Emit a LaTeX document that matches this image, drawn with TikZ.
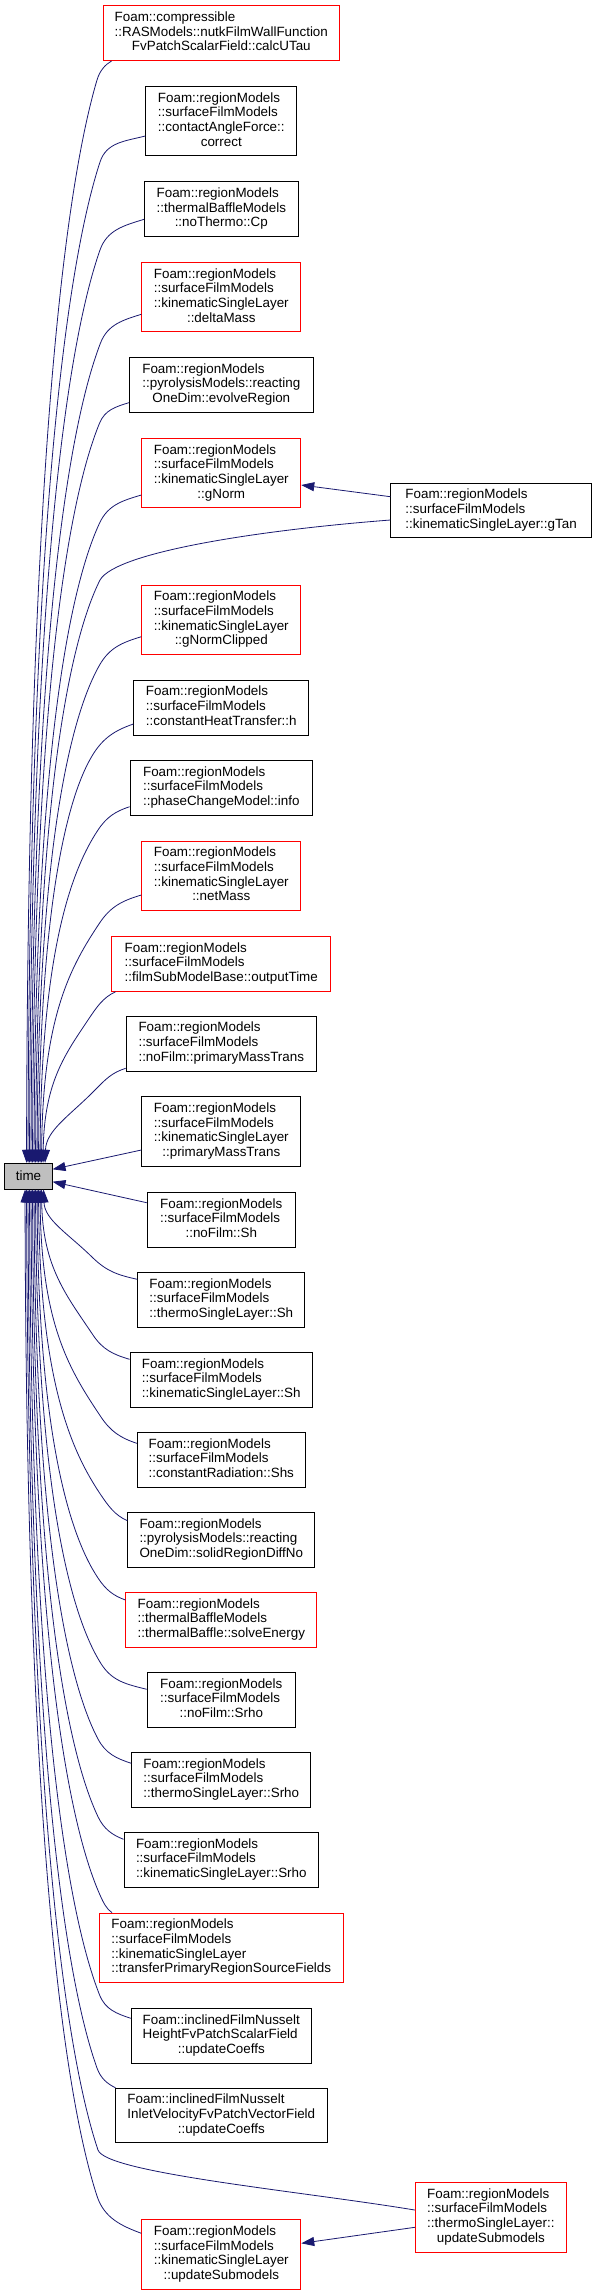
\documentclass[tikz,border=0pt]{standalone}
\usepackage{fontspec}
\setmainfont{Liberation Sans}
\usetikzlibrary{arrows.meta}
\definecolor{edgeblue}{HTML}{191970}
\definecolor{nodered}{HTML}{FF0000}
\definecolor{timegray}{HTML}{BFBFBF}
\newcommand\fsz{\fontsize{13.4}{14.7}\selectfont}
\newcommand\nl[2]{\begin{tabular}{@{}l@{}}#1\\\multicolumn{1}{@{}c@{}}{#2}\end{tabular}}
\newcommand\cedge[4]{%
  \path #1;\pgfgetlastxy{\cEx}{\cEy}%
  \path #2;\pgfgetlastxy{\cTx}{\cTy}%
  \pgfmathsetmacro\cBx{#3}%
  \pgfmathsetmacro\cBy{-(#4)}%
  \pgfmathsetmacro\cSg{ifthenelse((\cEy)>(\cTy),1,-1)}%
  \pgfmathsetmacro\cdx{(\cEx)-(\cBx)}%
  \pgfmathsetmacro\cdy{abs((\cEy)-(\cBy))}%
  \pgfmathsetmacro\cAx{(\cEx)-0.45*(\cdx)}%
  \pgfmathsetmacro\cAy{(\cEy)-(\cSg)*0.2*(\cdy)}%
  \pgfmathsetmacro\cDx{(\cBx)-(\cTx)}%
  \pgfmathsetmacro\cDy{abs((\cBy)-(\cTy))}%
  \pgfmathsetmacro\cux{-0.5*(\cDx)}%
  \pgfmathsetmacro\cua{max(0.11*(\cDy),min(0.75*(\cDx),0.35*(\cDy)))}%
  \pgfmathsetmacro\cuy{-(\cSg)*(\cua)}%
  \pgfmathsetmacro\cln{veclen(\cux,\cuy)}%
  \pgfmathsetmacro\cLo{0.4*veclen(\cdx,\cdy)}%
  \pgfmathsetmacro\cCx{(\cBx)-(\cux)*(\cLo)/(\cln)}%
  \pgfmathsetmacro\cCy{(\cBy)-(\cuy)*(\cLo)/(\cln)}%
  \pgfmathsetmacro\cFx{(\cBx)+(\cux)}%
  \pgfmathsetmacro\cFy{(\cBy)+(\cuy)}%
  \pgfmathsetmacro\cGx{(\cTx)+1}%
  \pgfmathsetmacro\cGy{(\cBy)-(\cSg)*max(0.39*(\cDy),(\cua)+0.2*(\cDy))}%
  \draw[calledge] #1 .. controls (\cAx pt,\cAy pt) and (\cCx pt,\cCy pt) .. (\cBx pt,\cBy pt) .. controls (\cFx pt,\cFy pt) and (\cGx pt,\cGy pt) .. #2;%
}
\begin{document}
\begin{tikzpicture}[x=1pt,y=-1pt,
  box/.style={draw=black, line width=0.9pt, fill=white, inner sep=0pt, minimum height=54.6pt, font=\fsz},
  redbox/.style={box, draw=nodered},
  four/.style={minimum height=69.4pt},
  calledge/.style={draw=edgeblue, line width=0.8pt, -{Triangle[length=13pt,width=9pt]}}]
\useasboundingbox (0,0) rectangle (596,2295);
\fill[white] (0,0) rectangle (596,2295);

\node[redbox, minimum width=235.8pt] (calcUTau) at (221.3,33.2) {\nl{Foam::compressible\\::RASModels::nutkFilmWallFunction}{FvPatchScalarField::calcUTau}};
\node[box, four, minimum width=151pt] (correct) at (221.3,121.2) {\nl{Foam::regionModels\\::surfaceFilmModels\\::contactAngleForce::}{correct}};
\node[box, minimum width=153.6pt] (Cp) at (221.3,209.2) {\nl{Foam::regionModels\\::thermalBaffleModels}{::noThermo::Cp}};
\node[redbox, four, minimum width=159pt] (deltaMass) at (221.3,297.15) {\nl{Foam::regionModels\\::surfaceFilmModels\\::kinematicSingleLayer}{::deltaMass}};
\node[box, minimum width=184pt] (evolveRegion) at (221.3,385) {\nl{Foam::regionModels\\::pyrolysisModels::reacting}{OneDim::evolveRegion}};
\node[redbox, four, minimum width=159pt] (gNorm) at (221.3,473.2) {\nl{Foam::regionModels\\::surfaceFilmModels\\::kinematicSingleLayer}{::gNorm}};
\node[box, minimum width=200.4pt] (gTan) at (491.1,510.5) {\nl{Foam::regionModels\\::surfaceFilmModels}{::kinematicSingleLayer::gTan}};
\node[redbox, four, minimum width=159pt] (gNormClipped) at (221.3,619.85) {\nl{Foam::regionModels\\::surfaceFilmModels\\::kinematicSingleLayer}{::gNormClipped}};
\node[box, minimum width=174.9pt] (hnode) at (221.3,707.65) {\nl{Foam::regionModels\\::surfaceFilmModels}{::constantHeatTransfer::h}};
\node[box, minimum width=182.5pt] (info) at (221.3,787.85) {\nl{Foam::regionModels\\::surfaceFilmModels}{::phaseChangeModel::info}};
\node[redbox, four, minimum width=159pt] (netMass) at (221.3,875.7) {\nl{Foam::regionModels\\::surfaceFilmModels\\::kinematicSingleLayer}{::netMass}};
\node[redbox, minimum width=219pt] (outputTime) at (221.3,964) {\nl{Foam::regionModels\\::surfaceFilmModels}{::filmSubModelBase::outputTime}};
\node[box, minimum width=190.4pt] (nfPMT) at (221.3,1043.65) {\nl{Foam::regionModels\\::surfaceFilmModels}{::noFilm::primaryMassTrans}};
\node[box, four, minimum width=159pt] (kslPMT) at (221.3,1131.5) {\nl{Foam::regionModels\\::surfaceFilmModels\\::kinematicSingleLayer}{::primaryMassTrans}};
\node[box, fill=timegray, minimum width=47.2pt, minimum height=25.7pt] (time) at (28.5,1176.15) {time};
\node[box, minimum width=148.3pt] (nfSh) at (221.3,1219.8) {\nl{Foam::regionModels\\::surfaceFilmModels}{::noFilm::Sh}};
\node[box, minimum width=167pt] (tslSh) at (221.3,1300) {\nl{Foam::regionModels\\::surfaceFilmModels}{::thermoSingleLayer::Sh}};
\node[box, minimum width=182.5pt] (kslSh) at (221.3,1380) {\nl{Foam::regionModels\\::surfaceFilmModels}{::kinematicSingleLayer::Sh}};
\node[box, minimum width=168pt] (Shs) at (221.3,1459.85) {\nl{Foam::regionModels\\::surfaceFilmModels}{::constantRadiation::Shs}};
\node[box, minimum width=187pt] (solidRDN) at (221.3,1539.85) {\nl{Foam::regionModels\\::pyrolysisModels::reacting}{OneDim::solidRegionDiffNo}};
\node[redbox, minimum width=190.8pt] (solveEnergy) at (221.3,1620) {\nl{Foam::regionModels\\::thermalBaffleModels}{::thermalBaffle::solveEnergy}};
\node[box, minimum width=148.3pt] (nfSrho) at (221.3,1699.85) {\nl{Foam::regionModels\\::surfaceFilmModels}{::noFilm::Srho}};
\node[box, minimum width=179pt] (tslSrho) at (221.3,1780) {\nl{Foam::regionModels\\::surfaceFilmModels}{::thermoSingleLayer::Srho}};
\node[box, minimum width=194.6pt] (kslSrho) at (221.3,1860) {\nl{Foam::regionModels\\::surfaceFilmModels}{::kinematicSingleLayer::Srho}};
\node[redbox, four, minimum width=243.4pt] (transfer) at (221.3,1947.8) {\nl{Foam::regionModels\\::surfaceFilmModels\\::kinematicSingleLayer}{::transferPrimaryRegionSourceFields}};
\node[box, minimum width=180.2pt] (inclH) at (221.3,2035.8) {\nl{Foam::inclinedFilmNusselt\\HeightFvPatchScalarField}{::updateCoeffs}};
\node[box, minimum width=212.6pt] (inclI) at (221.3,2115.5) {\nl{Foam::inclinedFilmNusselt\\InletVelocityFvPatchVectorField}{::updateCoeffs}};
\node[redbox, four, minimum width=151.3pt] (tslUS) at (490.9,2217.35) {\nl{Foam::regionModels\\::surfaceFilmModels\\::thermoSingleLayer::}{updateSubmodels}};
\node[redbox, four, minimum width=159pt] (kslUS) at (221.3,2254.5) {\nl{Foam::regionModels\\::surfaceFilmModels\\::kinematicSingleLayer}{::updateSubmodels}};

% callers above time
\cedge{([xshift=8.6pt]calcUTau.south west)}{([xshift=22.1pt]time.north west)}{97}{80}
\cedge{([yshift=-14.8pt]correct.west)}{([xshift=23.6pt]time.north west)}{100}{162}
\cedge{([yshift=-10.1pt]Cp.west)}{([xshift=25.1pt]time.north west)}{100}{250}
\cedge{([yshift=-17.15pt]deltaMass.west)}{([xshift=26.6pt]time.north west)}{100.5}{343}
\cedge{([yshift=-17.7pt]evolveRegion.west)}{([xshift=28.1pt]time.north west)}{99.6}{423}
\cedge{([yshift=-21.8pt]gNorm.west)}{([xshift=29.6pt]time.north west)}{99.6}{523}
\draw[calledge] ([yshift=-9.5pt]gTan.west) .. controls (260,530) and (116,552) .. (100,580) .. controls (68,644) and (37,807) .. ([xshift=31.1pt]time.north west);
\cedge{([yshift=-16.85pt]gNormClipped.west)}{([xshift=32.6pt]time.north west)}{99.6}{665}
\cedge{([yshift=-16.35pt]hnode.west)}{([xshift=34.1pt]time.north west)}{92}{756}
\cedge{([yshift=-18.85pt]info.west)}{([xshift=35.6pt]time.north west)}{98}{830}
\cedge{([yshift=-19.3pt]netMass.west)}{([xshift=37.1pt]time.north west)}{99.6}{923}
\cedge{([xshift=4.2pt]outputTime.south west)}{([xshift=38.6pt]time.north west)}{88}{1020}
\cedge{([yshift=-24.65pt]nfPMT.west)}{([xshift=40.6pt]time.north west)}{95}{1090}
% callers beside time
\draw[calledge] ([yshift=-18.5pt]kslPMT.west) -- ([yshift=6.85pt]time.east);
\draw[calledge] ([yshift=17.1pt]nfSh.west) -- ([yshift=-5.55pt]time.east);
% callers below time
\cedge{([yshift=20.7pt]tslSh.west)}{([xshift=39.1pt]time.south west)}{92}{1257}
\cedge{([yshift=20.7pt]kslSh.west)}{([xshift=37.1pt]time.south west)}{93}{1335}
\cedge{([yshift=16.55pt]Shs.west)}{([xshift=35.6pt]time.south west)}{100.8}{1416.7}
\cedge{([yshift=19.15pt]solidRDN.west)}{([xshift=34.1pt]time.south west)}{99.6}{1493}
\cedge{([yshift=20pt]solveEnergy.west)}{([xshift=32.6pt]time.south west)}{98}{1578}
\cedge{([yshift=10.55pt]nfSrho.west)}{([xshift=31.1pt]time.south west)}{100.8}{1663.3}
\cedge{([yshift=16.7pt]tslSrho.west)}{([xshift=29.6pt]time.south west)}{98}{1739}
\cedge{([yshift=20.7pt]kslSrho.west)}{([xshift=28.1pt]time.south west)}{98}{1816.7}
\cedge{([xshift=12.9pt]transfer.north west)}{([xshift=26.6pt]time.south west)}{100}{1895}
\cedge{([yshift=17.5pt]inclH.west)}{([xshift=25.1pt]time.south west)}{99.6}{1995}
\cedge{([xshift=1pt]inclI.north west)}{([xshift=23.6pt]time.south west)}{97}{2068}
\draw[calledge] ([yshift=7.35pt]tslUS.west) .. controls (300,2191) and (106,2173) .. (98,2150) .. controls (62.5,2044) and (28,1775) .. ([xshift=22.1pt]time.south west);
\cedge{([yshift=21.2pt]kslUS.west)}{([xshift=20.6pt]time.south west)}{97}{2196}
% other calls
\draw[calledge] ([yshift=13.8pt]gTan.west) -- ([yshift=-11.8pt]gNorm.east);
\draw[calledge] ([yshift=-9.95pt]tslUS.west) -- ([yshift=11.2pt]kslUS.east);
\end{tikzpicture}
\end{document}
